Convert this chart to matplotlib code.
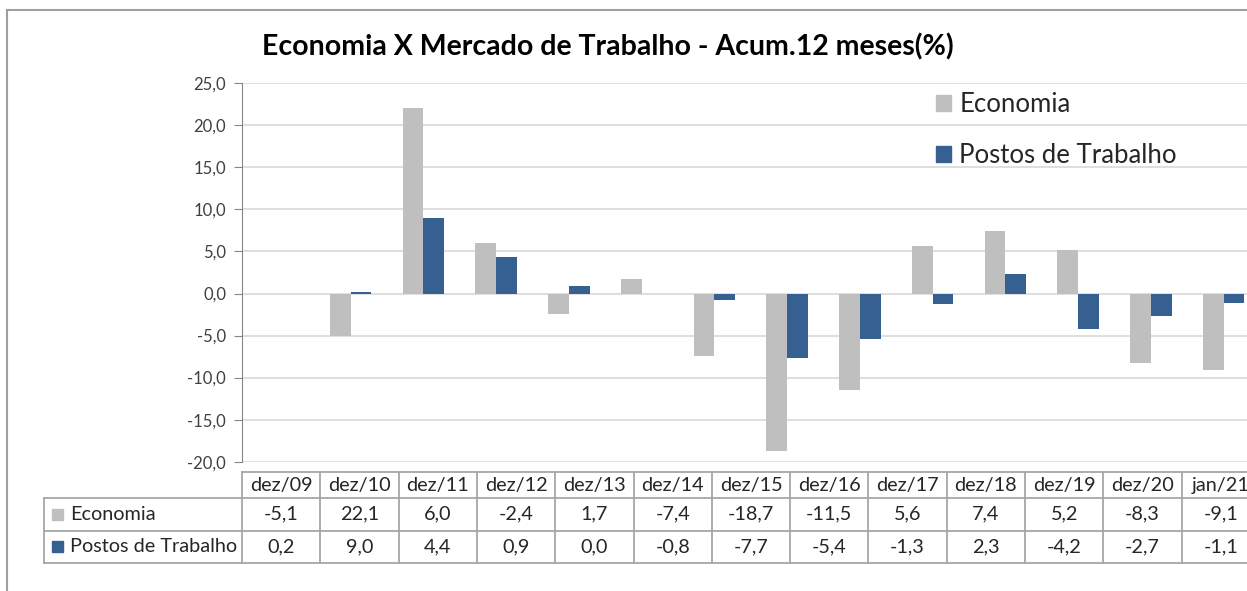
import numpy as np
import matplotlib
matplotlib.use("Agg")
import matplotlib.pyplot as plt
from matplotlib.lines import Line2D
from matplotlib.patches import Rectangle

# ---------------- data ----------------
categories = ["dez/09", "dez/10", "dez/11", "dez/12", "dez/13", "dez/14", "dez/15",
              "dez/16", "dez/17", "dez/18", "dez/19", "dez/20", "jan/21"]
economia = [-5.1, 22.1, 6.0, -2.4, 1.7, -7.4, -18.7, -11.5, 5.6, 7.4, 5.2, -8.3, -9.1]
postos = [0.2, 9.0, 4.4, 0.9, 0.0, -0.8, -7.7, -5.4, -1.3, 2.3, -4.2, -2.7, -1.1]
series_names = ["Economia", "Postos de Trabalho"]
yticks = [-20, -15, -10, -5, 0, 5, 10, 15, 20, 25]
title = "Economia X Mercado de Trabalho - Acum.12 meses(%)"

GREY = "#BFBFBF"
BLUE = "#376092"
FONT = "Lato"

W, H = 1247, 591
fig = plt.figure(figsize=(W / 100, H / 100), dpi=100)
fig.patch.set_facecolor("white")

def fx(px):
    return px / W

def fy(py):
    return 1 - py / H

# ---------------- main axes ----------------
left, right, top, bottom = 241.5, 1260, 83.3, 461.7
ax = fig.add_axes([fx(left), fy(bottom), fx(right - left), (bottom - top) / H])
n = len(categories)
ncat = n + 1  # plot area holds one leading empty category
x = np.arange(1, n + 1)
bw = 1 / 3.5
ax.bar(x - bw / 2, economia, width=bw, color=GREY, zorder=3)
ax.bar(x + bw / 2, postos, width=bw, color=BLUE, zorder=3)
ax.set_xlim(-0.5, ncat - 0.5)
ax.set_ylim(min(yticks), max(yticks))
ax.set_yticks(yticks)
ax.set_yticklabels([f"{v:.1f}".replace(".", ",") for v in yticks],
                   fontsize=12, family=FONT, color="#404040")
ax.set_xticks([])
ax.grid(axis="y", color="#D9D9D9", lw=1.2, zorder=0)
for s in ["top", "right", "bottom"]:
    ax.spines[s].set_visible(False)
ax.spines["left"].set_color("#868686")
ax.tick_params(axis="y", direction="out", length=6, color="#868686", pad=5)

# legend
handles = [Rectangle((0, 0), 1, 1, color=GREY), Rectangle((0, 0), 1, 1, color=BLUE)]
leg = ax.legend(handles, series_names, loc="upper left",
                bbox_to_anchor=(fx(936), fy(92)), bbox_transform=fig.transFigure,
                frameon=False, prop={"family": FONT, "size": 18.5},
                handlelength=0.58, handleheight=0.55, handletextpad=0.32,
                labelspacing=1.02, borderaxespad=0, borderpad=0)
for t in leg.get_texts():
    t.set_color("#262626")

# title
fig.text(fx(608), fy(47), title, ha="center", va="center",
         fontsize=20.5, fontweight="bold", family=FONT, color="#000000")

# ---------------- data table ----------------
tl, tr, ttop, tb = 44, 1260, 472, 563
r1, r2 = 498, 530.5
lab_r = 242
tax = fig.add_axes([fx(tl), fy(tb), fx(tr - tl), (tb - ttop) / H])
tax.set_xlim(tl, tr)
tax.set_ylim(tb, ttop)
tax.axis("off")
lc = "#A6A6A6"
lw = 1.3
col_w = (tr - lab_r) / n
tax.plot([lab_r, tr], [ttop, ttop], color=lc, lw=lw, clip_on=False)
for yy in (r1, r2, tb):
    tax.plot([tl, tr], [yy, yy], color=lc, lw=lw, clip_on=False)
tax.plot([tl, tl], [r1, tb], color=lc, lw=lw, clip_on=False)
for i in range(n + 1):
    xx = lab_r + i * col_w
    tax.plot([xx, xx], [ttop, tb], color=lc, lw=lw, clip_on=False)

fs_t = 14.3
rows = [economia, postos]
row_y = [(r1 + r2) / 2, (r2 + tb) / 2]
for i, c in enumerate(categories):
    cx = lab_r + (i + 0.5) * col_w
    tax.text(cx, (ttop + r1) / 2, c, ha="center", va="center", fontsize=fs_t,
             family=FONT, color="#262626", clip_on=False)
    for vals, yy in zip(rows, row_y):
        tax.text(cx, yy, f"{vals[i]:.1f}".replace(".", ","), ha="center", va="center",
                 fontsize=fs_t, family=FONT, color="#262626", clip_on=False)
for name, col, yy in zip(series_names, [GREY, BLUE], row_y):
    tax.add_patch(Rectangle((52, yy - 5.5), 11, 11, color=col, clip_on=False))
    tax.text(70, yy, name, ha="left", va="center", fontsize=fs_t, family=FONT,
             color="#262626", clip_on=False)

# outer chart border
fig.add_artist(Line2D([fx(6.5), fx(6.5)], [fy(10), fy(591)], color="#A0A0A0", lw=1.5))
fig.add_artist(Line2D([fx(6.5), fx(1247)], [fy(10), fy(10)], color="#A0A0A0", lw=1.5))

fig.savefig("out.png", dpi=100)
